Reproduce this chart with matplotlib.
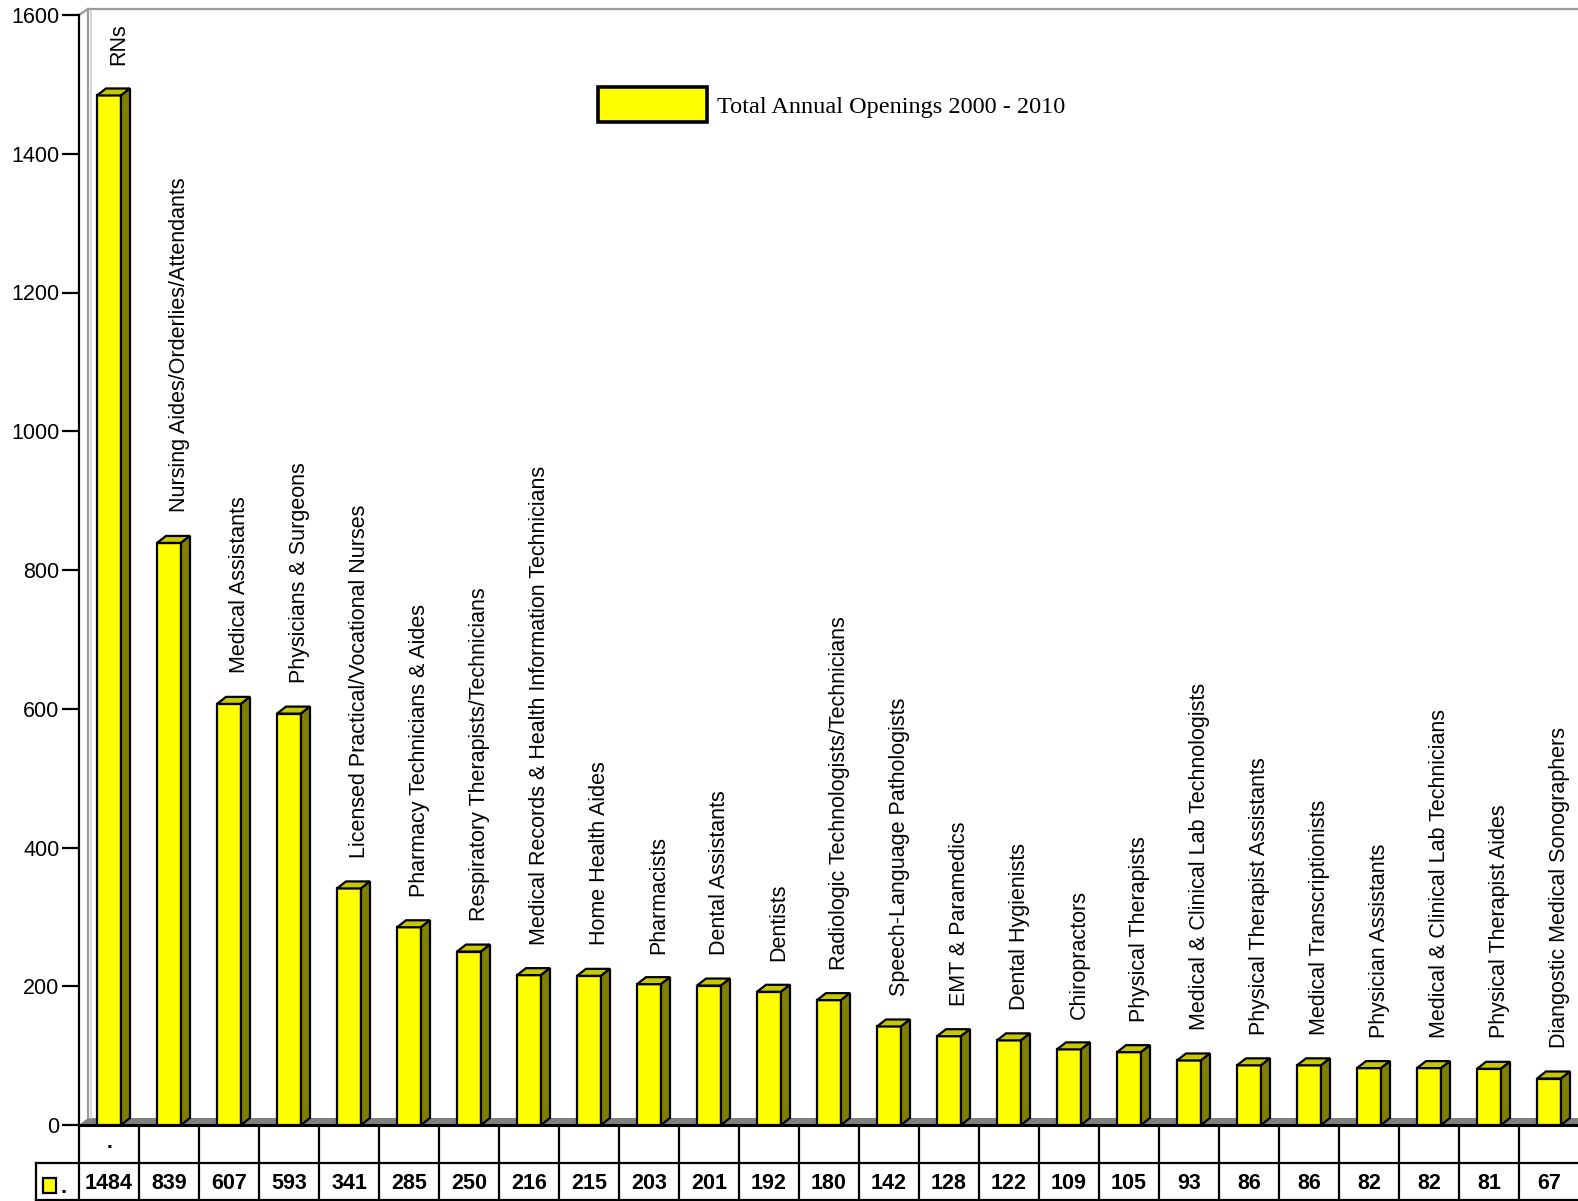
import numpy as np
import matplotlib.pyplot as plt
from matplotlib.patches import Polygon, Rectangle

occupations = [
    "RNs",
    "Nursing Aides/Orderlies/Attendants",
    "Medical Assistants",
    "Physicians & Surgeons",
    "Licensed Practical/Vocational Nurses",
    "Pharmacy Technicians & Aides",
    "Respiratory Therapists/Technicians",
    "Medical Records & Health Information Technicians",
    "Home Health Aides",
    "Pharmacists",
    "Dental Assistants",
    "Dentists",
    "Radiologic Technologists/Technicians",
    "Speech-Language Pathologists",
    "EMT & Paramedics",
    "Dental Hygienists",
    "Chiropractors",
    "Physical Therapists",
    "Medical & Clinical Lab Technologists",
    "Physical Therapist Assistants",
    "Medical Transcriptionists",
    "Physician Assistants",
    "Medical & Clinical Lab Technicians",
    "Physical Therapist Aides",
    "Diangostic Medical Sonographers",
]
openings = [1484, 839, 607, 593, 341, 285, 250, 216, 215, 203, 201, 192, 180,
            142, 128, 122, 109, 105, 93, 86, 86, 82, 82, 81, 67]
series_name = "Total Annual Openings 2000 - 2010"
yticks = [0, 200, 400, 600, 800, 1000, 1200, 1400, 1600]

W, H = 1578, 1201
fig = plt.figure(figsize=(W / 100, H / 100), dpi=100)

# plot area in pixels (from top-left)
x_left, x_right = 79, 1579
y_zero, y_top = 1125, 15
n = len(openings)
ax = fig.add_axes([x_left / W, (H - y_zero) / H, (x_right - x_left) / W, (y_zero - y_top) / H])
ax.set_xlim(0, n)
ax.set_ylim(0, 1600)

px_x = (x_right - x_left) / n          # pixels per category
px_y = (y_zero - y_top) / 1600         # pixels per unit
dx = 9 / px_x                          # depth offset of the 3d look
dy = 7 / px_y

front = "#ffff00"
top_c = "#c8c800"
side_c = "#808000"
lw = 1.6

# floor and back wall
ax.add_patch(Polygon([(0, 0), (n + 1, 0), (n + 1, dy), (dx, dy)], closed=True,
                     facecolor="#808080", edgecolor="none", zorder=1, clip_on=False))
wall_top = 1600 + 6 / px_y
ax.plot([dx, dx], [dy, wall_top], color="#999999", lw=1.6, zorder=1, clip_on=False)
ax.plot([dx + 2.5 / px_x] * 2, [dy, wall_top], color="#d0d0d0", lw=1.2, zorder=1, clip_on=False)
ax.plot([dx, n + 1], [wall_top, wall_top], color="#999999", lw=1.6, zorder=1, clip_on=False)
ax.plot([0, dx], [1600, wall_top], color="#999999", lw=1.6, zorder=1, clip_on=False)

bw = 24 / px_x
xs = np.arange(n) + 0.5
ax.bar(xs, openings, width=bw, color=front, edgecolor="black", linewidth=lw, zorder=3)
for x, v in zip(xs, openings):
    x0, x1 = x - bw / 2, x + bw / 2
    ax.add_patch(Polygon([(x0, v), (x1, v), (x1 + dx, v + dy), (x0 + dx, v + dy)], closed=True,
                         facecolor=top_c, edgecolor="black", linewidth=lw, zorder=3,
                         joinstyle="miter"))
    ax.add_patch(Polygon([(x1, 0), (x1 + dx, dy), (x1 + dx, v + dy), (x1, v)], closed=True,
                         facecolor=side_c, edgecolor="black", linewidth=lw, zorder=3,
                         joinstyle="miter", clip_on=False))

for x, v, name in zip(xs, openings, occupations):
    ax.annotate(name, (x + 0.17, v), xytext=(0, 22), textcoords="offset points",
                rotation=90, ha="center", va="bottom", fontsize=15.5,
                family="Liberation Sans")

for s in ["top", "right"]:
    ax.spines[s].set_visible(False)
ax.spines["left"].set_linewidth(1.6)
ax.spines["bottom"].set_linewidth(2.2)
ax.set_yticks(yticks)
ax.set_yticklabels([str(t) for t in yticks], fontsize=15.5, family="Liberation Sans")
ax.tick_params(axis="y", length=12, width=1.6, pad=2)
ax.set_xticks([])

# legend
fig.add_artist(Rectangle((598 / W, 1 - 122 / H), 109 / W, 35 / H, transform=fig.transFigure,
                         facecolor=front, edgecolor="black", linewidth=2.6))
fig.text(717 / W, 1 - 108 / H, series_name, fontsize=17.5, family="Liberation Serif",
         va="center", ha="left")

# data table under the axis
x_key = 36
tab = fig.add_axes([x_key / W, 0, (x_right - x_key) / W, (H - y_zero) / H])
k0 = -(x_left - x_key) / px_x
tab.set_xlim(k0, n)
tab.set_ylim(0, 2)
tab.axis("off")
tl = dict(color="black", lw=1.6, clip_on=False, solid_capstyle="projecting")
tab.plot([k0, n], [1, 1], **tl)
tab.plot([k0, n], [0.02, 0.02], **tl)
tab.plot([k0, k0], [0, 1], **tl)
for k in range(n + 1):
    tab.plot([k, k], [0, 2], **tl)
tab.text(0.5, 1.55, ".", ha="center", va="center", fontsize=15, fontweight="bold",
         family="Liberation Sans")
for x, v in zip(xs, openings):
    tab.text(x, 0.46, str(v), ha="center", va="center", fontsize=15.5, fontweight="bold",
             family="Liberation Sans")
tab.add_patch(Rectangle((k0 + 7 / px_x, 0.22), 13 / px_x, 15 / 38, facecolor=front,
                        edgecolor="black", linewidth=1.6))
tab.text(k0 + 24 / px_x, 0.35, ".", ha="left", va="center", fontsize=15.5, fontweight="bold",
         family="Liberation Sans")

fig.savefig("out.png", dpi=100)
